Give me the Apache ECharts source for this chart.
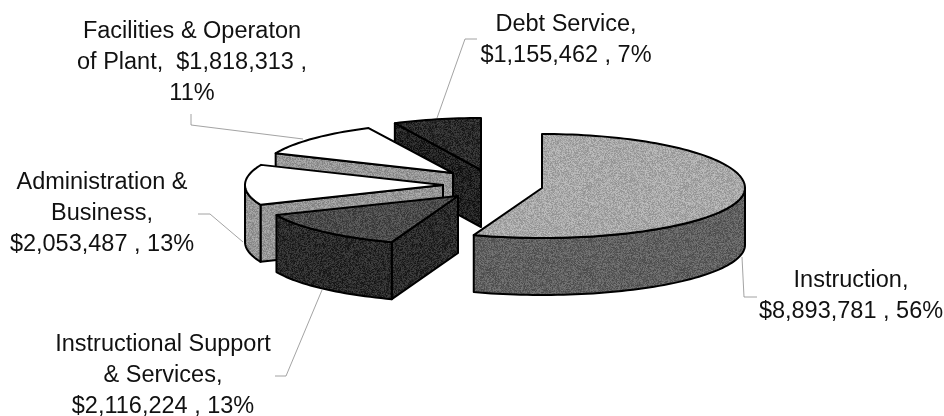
<!DOCTYPE html>
<html><head><meta charset="utf-8">
<style>html,body{margin:0;padding:0;background:#fff}#c{width:944px;height:416px}</style>
<script src="https://cdn.jsdelivr.net/npm/echarts@6/dist/echarts.min.js"></script>
</head><body><div id="c"></div>
<script>
// Data, clockwise from twelve o'clock
const categories = ['Instruction','Instructional Support & Services','Administration & Business','Facilities & Operaton of Plant','Debt Service'];
const values = [8893781,2116224,2053487,1818313,1155462];
const percents = [56,13,13,11,7];
const labelTexts = [
 'Instruction,\n$8,893,781 , 56%',
 'Instructional Support\n& Services,\n$2,116,224 , 13%',
 'Administration &\nBusiness,\n$2,053,487 , 13%',
 'Facilities & Operaton\nof Plant,  $1,818,313 ,\n11%',
 'Debt Service,\n$1,155,462 , 7%'
];
// Look of each slice
const topGrays  = [168,74,255,255,42];
const wallGrays = [96,42,150,150,34];
const apexX = [542,458,443,453,481];
const apexY = [188,196,185,173,170];
const radiusX = [203,197,198,193,197];
const radiusYBack = [54,49,51,50,52];
const radiusYFront = [50,49,51,50,52];
const depth = 57;
const labelX = [851,163,102,192,566];
const labelY = [265,329,167,16,9];
const leaders = [
 [[742,257],[744,297],[757,297]],
 [[322,290],[286,376],[275,376]],
 [[243,242],[210,214],[198,214]],
 [[303,139],[191,125],[191,114]],
 [[437,118],[465,39],[477,39]]
];
const paintOrder = [4,3,2,1,0];

// Scanned-print grain: a fixed hashed texture around a grey level
function grain(gray){
  if(gray >= 255) return '#ffffff';
  const c = document.createElement('canvas'); c.width = c.height = 97;
  const g = c.getContext('2d'), im = g.createImageData(97,97);
  for(let y=0;y<97;y++)for(let x=0;x<97;x++){
    const h = Math.abs(Math.sin(x*12.9898+y*78.233+gray)*43758.5453)%1;
    const v = Math.max(0,Math.min(255,gray+(h-0.5)*48));
    const o=(y*97+x)*4; im.data[o]=im.data[o+1]=im.data[o+2]=v; im.data[o+3]=255;
  }
  g.putImageData(im,0,0);
  return {image:c,repeat:'repeat'};
}
const topFills = topGrays.map(grain), wallFills = wallGrays.map(grain);

const total = values.reduce((a,b)=>a+b,0);
const starts = []; let acc = 0;
values.forEach(v=>{starts.push(acc/total*2*Math.PI); acc+=v;});
const stroke = {stroke:'#000',lineWidth:2,lineJoin:'round'};

function renderSlice(params, api){
  const i = api.value(1);
  const a = starts[i], b = a + api.value(0)/total*2*Math.PI;
  const cx = apexX[i], cy = apexY[i], rx = radiusX[i];
  const pt = (t,d)=>{const k=Math.cos(t);return [cx+rx*Math.sin(t), cy-(k>0?radiusYBack[i]:radiusYFront[i])*k+(d||0)];};
  const arc = (s,e,d)=>{const n=Math.max(2,Math.ceil((e-s)/0.03)),p=[];for(let k=0;k<=n;k++)p.push(pt(s+(e-s)*k/n,d));return p;};
  const children = [];
  const z = paintOrder.indexOf(i)*3+10;
  if(Math.sin(a) < -1e-6){
    const e = pt(a);
    children.push({type:'polygon',z2:z,shape:{points:[[cx,cy],e,[e[0],e[1]+depth],[cx,cy+depth]]},style:{fill:wallFills[i],...stroke}});
  }
  if(Math.sin(b) > 1e-6){
    const e = pt(b);
    children.push({type:'polygon',z2:z,shape:{points:[[cx,cy],e,[e[0],e[1]+depth],[cx,cy+depth]]},style:{fill:wallFills[i],...stroke}});
  }
  const s = Math.max(a,Math.PI/2), e = Math.min(b,Math.PI*1.5);
  if(e > s){
    children.push({type:'polygon',z2:z+1,shape:{points:arc(s,e,0).concat(arc(s,e,depth).reverse())},style:{fill:wallFills[i],...stroke}});
  }
  children.push({type:'polygon',z2:z+2,shape:{points:[[cx,cy]].concat(arc(a,b,0))},style:{fill:topFills[i],...stroke}});
  children.push({type:'polyline',z2:1,shape:{points:leaders[i]},style:{fill:null,stroke:'#8c8c8c',lineWidth:0.8}});
  children.push({type:'text',z2:50,x:labelX[i],y:labelY[i],style:{text:labelTexts[i],fill:'#111',font:'23.5px "Liberation Sans"',lineHeight:31,align:'center',verticalAlign:'top'}});
  return {type:'group',children};
}

const chart = echarts.init(document.getElementById('c'),null,{renderer:'canvas'});
chart.setOption({
  animation:false,
  backgroundColor:'#fff',
  series:[{type:'custom',coordinateSystem:'none',silent:true,renderItem:renderSlice,
    data:paintOrder.map(i=>({name:categories[i],value:[values[i],i,percents[i]]}))}]
});
</script></body></html>
